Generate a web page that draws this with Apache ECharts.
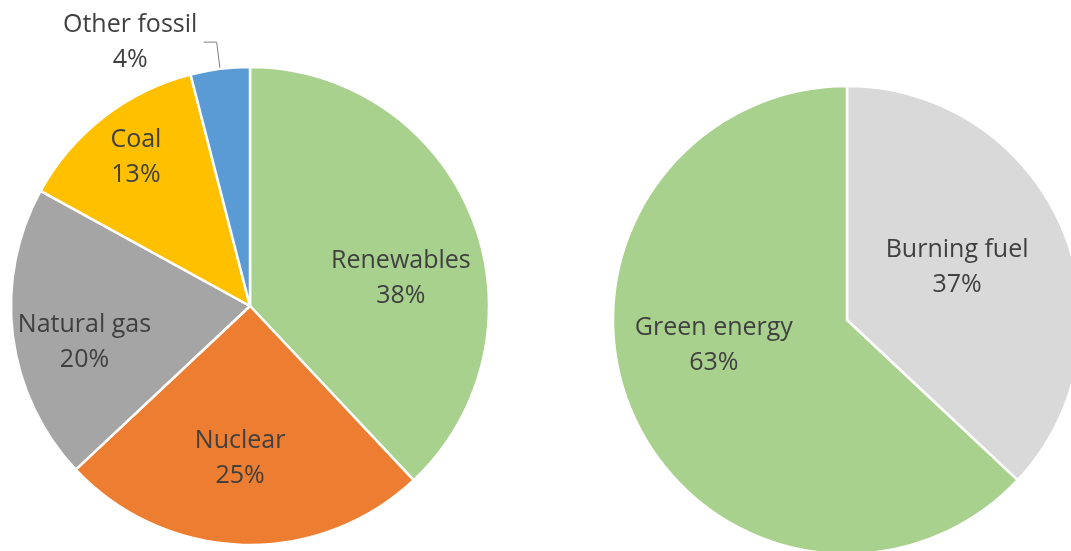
<!DOCTYPE html>
<html>
<head>
<meta charset="utf-8">
<title>Electricity sources</title>
<script src="https://cdn.jsdelivr.net/npm/echarts@6/dist/echarts.min.js"></script>
<style>
  html, body { margin: 0; padding: 0; background: #ffffff; }
  #chart { width: 1071px; height: 551px; }
</style>
</head>
<body>
<div id="chart"></div>
<script>
// Generation mix by source (percent)
const sourceNames = ['Renewables', 'Nuclear', 'Natural gas', 'Coal', 'Other fossil'];
const sourceValues = [38, 25, 20, 13, 4];

// Same mix grouped into two classes (percent)
const groupNames = ['Burning fuel', 'Green energy'];
const groupValues = [37, 63];

// Slice colours
const sourceColors = ['#A9D18E', '#ED7D31', '#A5A5A5', '#FFC000', '#5B9BD5'];
const groupColors = ['#D9D9D9', '#A9D18E'];

// Small shifts of the inside labels from their default spot [dx, dy]
const labelNudge = {
  'Renewables': [37, 17],
  'Nuclear': [-6, 30],
  'Natural gas': [-44, 21],
  'Coal': [-39, -52],
  'Burning fuel': [0, -5],
  'Green energy': [-23, -22]
};

const textColor = '#404040';
const fontFamily = '"Open Sans", "Segoe UI", sans-serif';
const fontSize = 25;

function buildData(names, values, colors) {
  return names.map((n, i) => ({
    name: n,
    value: values[i],
    itemStyle: { color: colors[i] }
  }));
}

const sourceData = buildData(sourceNames, sourceValues, sourceColors);
// The smallest slice gets its label outside with a leader line
sourceData[4].label = {
  position: 'outside',
  formatter: '{n|{b}}\n{n|{c}%}',
  rich: {
    n: { width: 137, align: 'center', fontSize: fontSize, lineHeight: 35, color: textColor, fontFamily: fontFamily }
  }
};
sourceData[4].labelLine = {
  show: true,
  length: 27,
  length2: 13,
  lineStyle: { color: '#808080', width: 1 }
};

const groupData = buildData(groupNames, groupValues, groupColors);

function nudge(names) {
  return function (params) {
    const d = labelNudge[names[params.dataIndex]];
    return d ? { dx: d[0], dy: d[1] } : {};
  };
}

const commonLabel = {
  show: true,
  position: 'inside',
  formatter: '{b}\n{c}%',
  color: textColor,
  fontSize: fontSize,
  lineHeight: 35,
  fontFamily: fontFamily
};

const chart = echarts.init(document.getElementById('chart'), null, { renderer: 'canvas' });
chart.setOption({
  backgroundColor: '#ffffff',
  animation: false,
  series: [
    {
      type: 'pie',
      center: [250, 306],
      radius: 239,
      startAngle: 90,
      clockwise: true,
      avoidLabelOverlap: false,
      itemStyle: { borderColor: '#ffffff', borderWidth: 2.5 },
      label: commonLabel,
      labelLine: { show: false },
      labelLayout: nudge(sourceNames),
      emphasis: { disabled: true },
      data: sourceData
    },
    {
      type: 'pie',
      center: [847, 320],
      radius: 234,
      startAngle: 90,
      clockwise: true,
      avoidLabelOverlap: false,
      itemStyle: { borderColor: '#ffffff', borderWidth: 2.5 },
      label: commonLabel,
      labelLine: { show: false },
      labelLayout: nudge(groupNames),
      emphasis: { disabled: true },
      data: groupData
    }
  ]
});
</script>
</body>
</html>
